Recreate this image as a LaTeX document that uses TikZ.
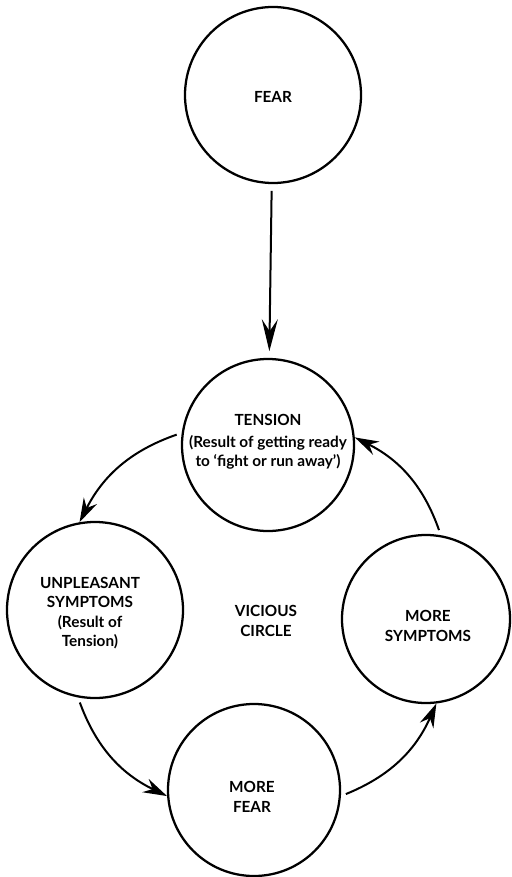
\documentclass[tikz,border=0pt]{standalone}
\usepackage{fontspec}
\setmainfont{Lato}
\usetikzlibrary{arrows.meta}

\tikzset{every picture/.style={line width=1.5pt}}
\tikzset{
	bubble/.style={draw, circle, minimum size=#1, inner sep=0pt, line width=1.7pt},
	lbl/.style={font=\bfseries\fontsize{11.5}{14.5}\selectfont, align=center, inner sep=0pt},
	cyc/.style={-{Stealth[length=18pt,width=11pt,inset=6pt]}, shorten <=4pt}}

\begin{document}
\begin{tikzpicture}[x=0.75pt,y=0.75pt,yscale=-1,xscale=1]
	\useasboundingbox (0,0) rectangle (511,877); %set diagram to the page size

	%Shape: Circle [id:fear] 
	\node [bubble=132pt] (fear) at (273,95) {};
	%Shape: Circle [id:tension] 
	\node [bubble=129pt] (tension) at (268,445) {};
	%Shape: Circle [id:unpl] 
	\node [bubble=132pt] (unpl) at (95,610) {};
	%Shape: Circle [id:moresym] 
	\node [bubble=126pt] (moresym) at (426,619) {};
	%Shape: Circle [id:morefear] 
	\node [bubble=129pt] (morefear) at (254,790) {};

	% Text Node
	\node [lbl] (fearlbl) at (273,97) {FEAR};
	% Text Node
	\node [lbl] (tenslbl) at (268,442) {TENSION\\[2pt](Result of getting ready\\to ‘fight or run away’)};
	% Text Node
	\node [lbl] (unpllbl) at (90,613) {UNPLEASANT\\SYMPTOMS\\(Result of\\Tension)};
	% Text Node
	\node [lbl] (vclbl) at (266,621) {VICIOUS\\CIRCLE};
	% Text Node
	\node [lbl] (mslbl) at (428,626) {MORE\\SYMPTOMS};
	% Text Node
	\node [lbl] (mflbl) at (252,797) {MORE\\FEAR};

	%Straight Arrow
	\draw [-{Stealth[length=24pt,width=12pt,inset=9pt]}, shorten <=5pt, shorten >=5pt] (fear) -- (tension);
	%Curve Arrows
	\draw [cyc] (tension.172) to [bend left=22] (unpl.100);
	\draw [cyc] (unpl.259) to [bend left=22] (morefear.184);
	\draw [cyc] (morefear.356) to [bend left=22] (moresym.277);
	\draw [cyc] (moresym.80) to [bend left=22] (tension.5);

\end{tikzpicture}
\end{document}
